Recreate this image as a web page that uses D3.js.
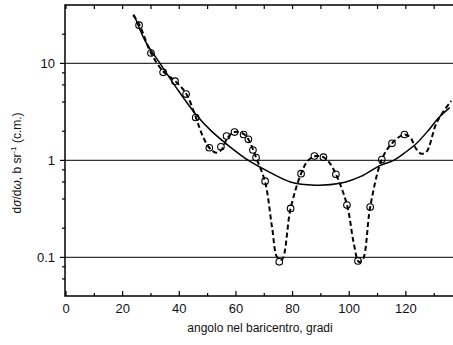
<!DOCTYPE html>
<html lang="it">
<head>
  <meta charset="UTF-8">
  <title>Sezione d'urto differenziale</title>
  <style>
    body { margin: 0; background: #fff; }
    svg { display: block; font-family: "Liberation Sans", Arial, sans-serif; }
    .grid { stroke: #333; stroke-width: 1.1; }
    .frame { stroke: #000; stroke-width: 1.5; fill: none; }
    .tick { stroke: #000; stroke-width: 1.2; }
    .lbl { font-size: 13px; fill: #111; }
    .title { font-size: 12px; fill: #111; }
  </style>
</head>
<body>
  <svg width="453" height="345"></svg>
  <script src="https://d3js.org/d3.v7.min.js"></script>
  <script>
    // measured points (angle in degrees, dσ/dω in b/sr)
    const pointAngle = [25.8, 30, 34.3, 38.5, 42.4, 45.8, 50.6, 54.7, 56.7, 59.5, 62.7, 64.4, 66, 67.1,
      70.3, 75.3, 79.3, 83, 87.7, 90.9, 95.3, 99.2, 103.1, 107.4, 111.5, 115.1, 119.5];
    const pointValue = [24.8, 12.8, 8.1, 6.56, 4.83, 2.77, 1.35, 1.38, 1.78, 1.96, 1.85, 1.65, 1.28, 1.07,
      0.61, 0.09, 0.32, 0.73, 1.11, 1.08, 0.72, 0.346, 0.092, 0.33, 1.02, 1.5, 1.85];

    // smooth (solid) curve
    const smoothAngle = [24, 28, 33.2, 39, 45.6, 51, 57.9, 64.4, 71, 79.2, 88, 96.8, 103.9, 111, 115.7, 120, 124, 128, 131.6, 135.5];
    const smoothValue = [32, 17, 10, 5.6, 3.05, 2.05, 1.38, 1.0, 0.78, 0.6, 0.556, 0.58, 0.68, 0.89, 1.0, 1.22, 1.52, 2.05, 2.75, 3.5];

    // oscillating (dashed) fit
    const fitAngle = [23.7, 26, 30, 34.3, 38.5, 42.4, 45.8, 48.2, 50.6, 53, 55, 57, 59.5, 62.7, 64.4, 66, 67.1,
      70.3, 72.8, 74.6, 76.2, 79.3, 83, 85.5, 88.3, 90.9, 93, 95.3, 99.2, 101.6, 103.4, 104.8, 107.4, 111.5,
      115.1, 119.5, 121.6, 123.4, 125.2, 127.2, 131, 136];
    const fitValue = [31.5, 24.8, 12.8, 8.3, 6.6, 4.9, 2.8, 1.8, 1.35, 1.2, 1.3, 1.7, 1.96, 1.88, 1.65, 1.3, 1.07,
      0.6, 0.2, 0.1, 0.095, 0.32, 0.73, 1.0, 1.11, 1.08, 0.95, 0.72, 0.35, 0.14, 0.09, 0.095, 0.33, 1.02,
      1.5, 1.85, 1.72, 1.35, 1.18, 1.22, 2.5, 4.1];

    const xMajor = [0, 20, 40, 60, 80, 100, 120];
    const xMinor = [10, 30, 50, 70, 90, 110, 130];
    const yMajor = [0.1, 1, 10];
    const yMinor = [0.06, 0.08, 0.2, 0.4, 0.6, 0.8, 2, 4, 6, 8, 20];

    const svg = d3.select("svg");
    const plotL = 65, plotR = 453, plotT = 5, plotB = 296;

    const x = d3.scaleLinear().domain([0, 137]).range([66, 454]);
    const y = d3.scaleLog().domain([0.04, 40]).range([plotB, plotT]);

    // grid lines at decades
    svg.append("g").selectAll("line").data(yMajor).join("line")
      .attr("class", "grid")
      .attr("x1", plotL).attr("x2", plotR)
      .attr("y1", d => y(d)).attr("y2", d => y(d));

    // left ticks (outward)
    const g = svg.append("g");
    g.selectAll(".ymaj").data(yMajor).join("line")
      .attr("class", "tick ymaj")
      .attr("x1", plotL - 5).attr("x2", plotL)
      .attr("y1", d => y(d)).attr("y2", d => y(d));
    g.selectAll(".ymin").data(yMinor).join("line")
      .attr("class", "tick ymin")
      .attr("x1", plotL - 3).attr("x2", plotL)
      .attr("y1", d => y(d)).attr("y2", d => y(d));

    // bottom ticks (inward)
    g.selectAll(".xmaj").data(xMajor).join("line")
      .attr("class", "tick xmaj")
      .attr("x1", d => x(d)).attr("x2", d => x(d))
      .attr("y1", plotB).attr("y2", plotB - 5);
    g.selectAll(".xmin").data(xMinor).join("line")
      .attr("class", "tick xmin")
      .attr("x1", d => x(d)).attr("x2", d => x(d))
      .attr("y1", plotB).attr("y2", plotB - 3);

    // top ticks (inward)
    g.selectAll(".xtop").data(xMajor.concat(xMinor)).join("line")
      .attr("class", "tick xtop")
      .attr("x1", d => x(d)).attr("x2", d => x(d))
      .attr("y1", plotT).attr("y2", plotT + 4);

    // frame: left, top, bottom
    svg.append("path").attr("class", "frame")
      .attr("d", `M${plotR},${plotT}H${plotL}V${plotB}H${plotR}`);

    // tick labels
    svg.append("g").selectAll("text").data(xMajor).join("text")
      .attr("class", "lbl")
      .attr("x", d => x(d)).attr("y", 313)
      .attr("text-anchor", "middle")
      .text(d => d);
    svg.append("g").selectAll("text").data(yMajor).join("text")
      .attr("class", "lbl")
      .attr("x", 55).attr("y", d => y(d) + 4.5)
      .attr("text-anchor", "end")
      .text(d => d);

    // curves
    const line = d3.line()
      .x(d => x(d[0])).y(d => y(d[1]))
      .curve(d3.curveCatmullRom.alpha(0.5));

    svg.append("path")
      .datum(smoothAngle.map((a, i) => [a, smoothValue[i]]))
      .attr("d", line)
      .attr("fill", "none").attr("stroke", "#000").attr("stroke-width", 1.5);

    svg.append("path")
      .datum(fitAngle.map((a, i) => [a, fitValue[i]]))
      .attr("d", line)
      .attr("fill", "none").attr("stroke", "#000").attr("stroke-width", 2)
      .attr("stroke-dasharray", "5,3");

    // data points
    svg.append("g").selectAll("circle")
      .data(pointAngle.map((a, i) => [a, pointValue[i]]))
      .join("circle")
      .attr("cx", d => x(d[0])).attr("cy", d => y(d[1]))
      .attr("r", 3.3)
      .attr("fill", "none").attr("stroke", "#000").attr("stroke-width", 1.1);

    // axis titles
    svg.append("text").attr("class", "title")
      .attr("x", 260).attr("y", 332)
      .attr("text-anchor", "middle")
      .text("angolo nel baricentro, gradi");

    const yt = svg.append("text").attr("class", "title")
      .attr("transform", "translate(21,163) rotate(-90)")
      .attr("text-anchor", "middle");
    yt.append("tspan").text("d");
    yt.append("tspan").attr("font-style", "italic").text("σ");
    yt.append("tspan").text("/d");
    yt.append("tspan").attr("font-style", "italic").text("ω");
    yt.append("tspan").text(", b sr");
    yt.append("tspan").attr("font-size", "8px").attr("dy", -5).text("-1");
    yt.append("tspan").attr("dy", 5).text(" (c.m.)");
  </script>
</body>
</html>
